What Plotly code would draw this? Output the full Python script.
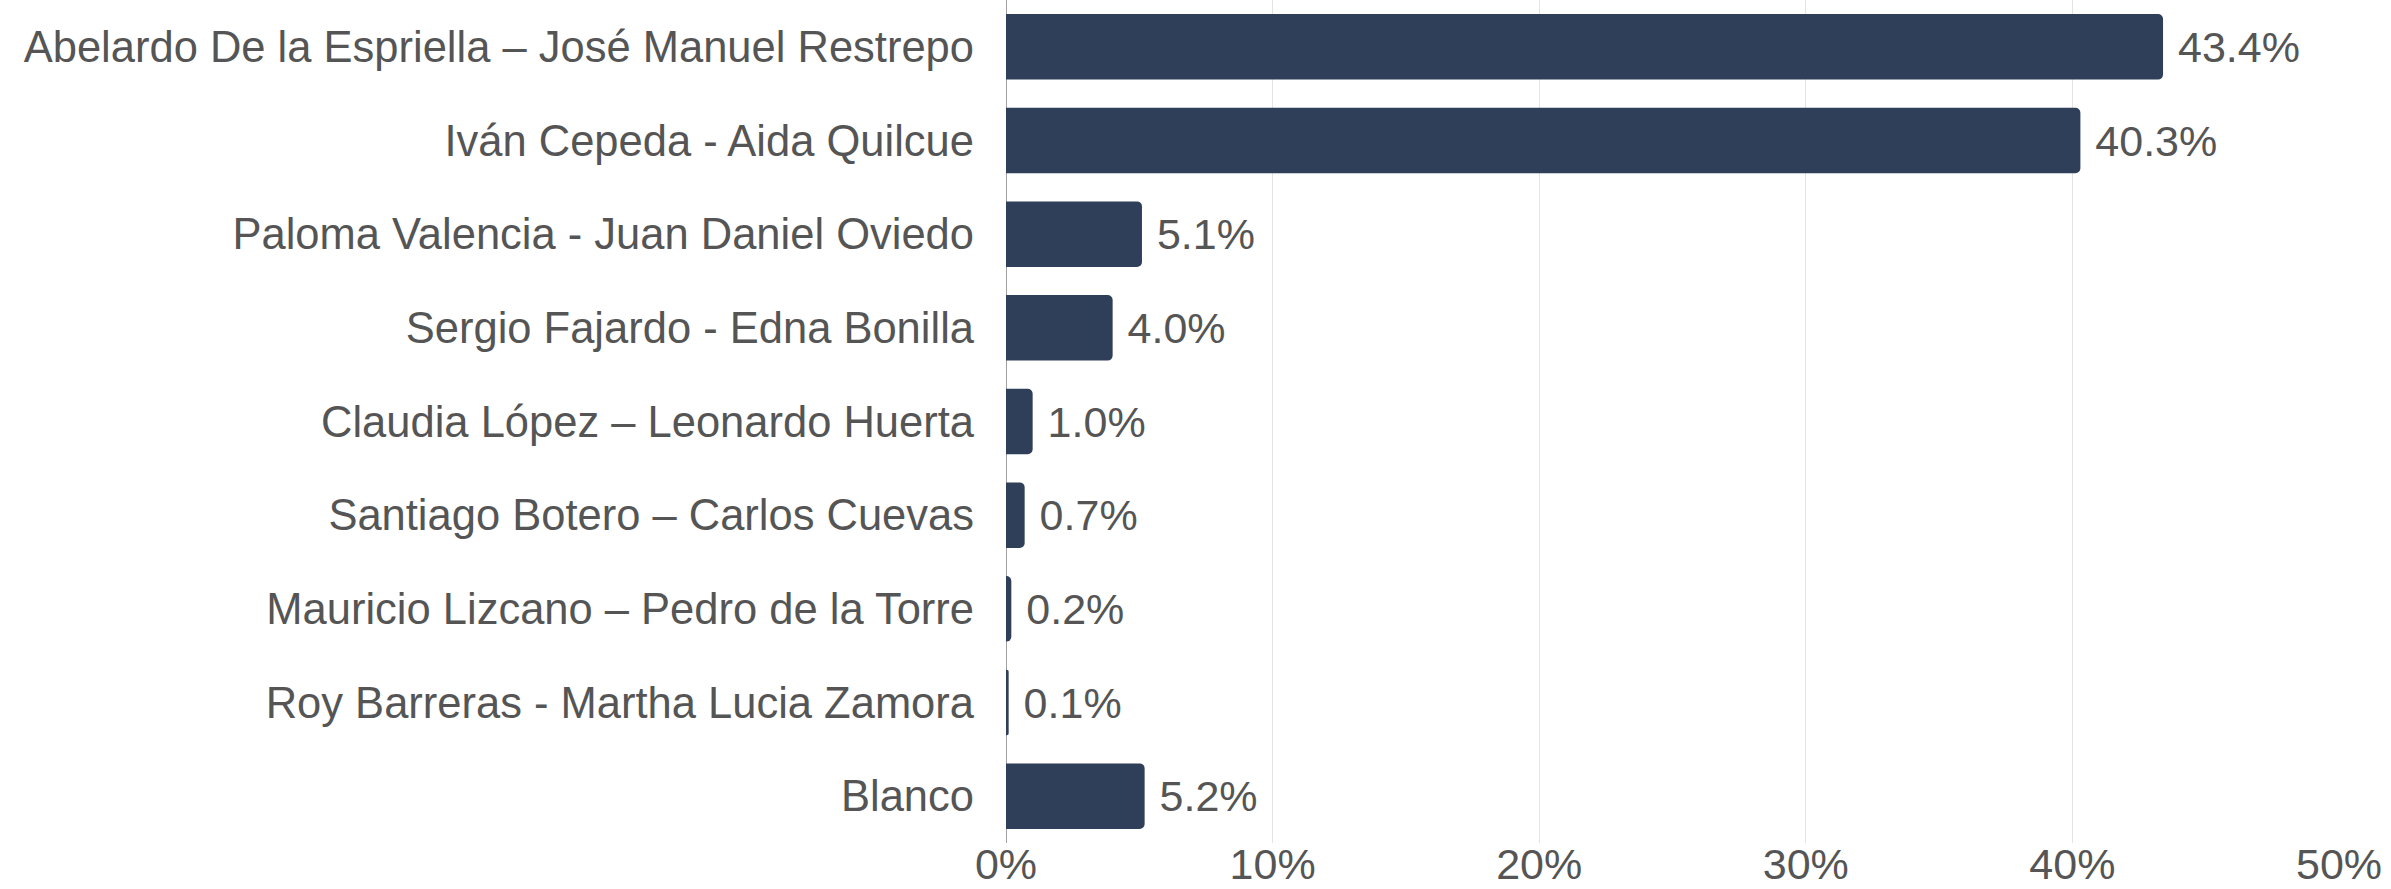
import plotly.graph_objects as go

candidates = [
    "Abelardo De la Espriella – José Manuel Restrepo",
    "Iván Cepeda - Aida Quilcue",
    "Paloma Valencia - Juan Daniel Oviedo",
    "Sergio Fajardo - Edna Bonilla",
    "Claudia López – Leonardo Huerta",
    "Santiago Botero – Carlos Cuevas",
    "Mauricio Lizcano – Pedro de la Torre",
    "Roy Barreras - Martha Lucia Zamora",
    "Blanco",
]
percent = [43.4, 40.3, 5.1, 4.0, 1.0, 0.7, 0.2, 0.1, 5.2]
x_ticks = [0, 10, 20, 30, 40, 50]
x_tick_labels = ["0%", "10%", "20%", "30%", "40%", "50%"]

FONT = "Liberation Sans, Arial, Helvetica, sans-serif"
TXT = "#555555"

fig = go.Figure(
    go.Bar(
        x=percent,
        y=candidates,
        orientation="h",
        marker=dict(color="#2f3f5a", line=dict(width=0)),
        texttemplate=" %{x:.1f}%",
        textposition="outside",
        textfont=dict(family=FONT, size=43, color=TXT),
        cliponaxis=False,
    )
)

fig.update_layout(
    width=2391,
    height=889,
    margin=dict(l=1006, r=52, t=0, b=46, autoexpand=False),
    paper_bgcolor="white",
    plot_bgcolor="white",
    bargap=0.3,
    barcornerradius=5,
    showlegend=False,
    font=dict(family=FONT, size=43, color=TXT),
    xaxis=dict(
        range=[0, 50],
        tickvals=x_ticks,
        ticktext=x_tick_labels,
        automargin=False,
        showgrid=True,
        gridcolor="#e3e3e3",
        gridwidth=1,
        zeroline=True,
        zerolinecolor="#a0a0a0",
        zerolinewidth=1,
        showline=False,
        ticks="",
        ticklabelstandoff=-8,
        tickfont=dict(family=FONT, size=43, color=TXT),
    ),
    yaxis=dict(
        autorange="reversed",
        automargin=False,
        showgrid=False,
        showline=False,
        ticks="",
        ticklabelstandoff=31,
        tickfont=dict(family=FONT, size=43.5, color=TXT),
    ),
)

fig.write_html("out.html")
